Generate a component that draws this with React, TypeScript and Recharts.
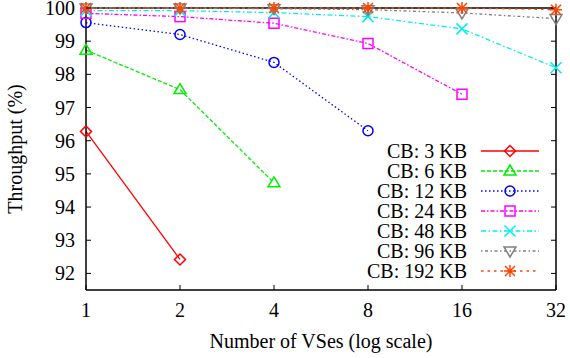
import { LineChart, Line, XAxis, YAxis, ReferenceLine } from "recharts";

const vses = [1, 2, 4, 8, 16, 32];
const yTicks = [92, 93, 94, 95, 96, 97, 98, 99, 100];

const cb3 = [96.28, 92.42];
const cb6 = [98.73, 97.54, 94.73];
const cb12 = [99.56, 99.2, 98.36, 96.3];
const cb24 = [99.84, 99.74, 99.54, 98.93, 97.4];
const cb48 = [99.92, 99.92, 99.86, 99.74, 99.37, 98.2];
const cb96 = [100, 100, 99.98, 99.95, 99.85, 99.68];
const cb192 = [100, 100, 100, 100, 100, 99.95];

const labels = ["CB: 3 KB", "CB: 6 KB", "CB: 12 KB", "CB: 24 KB", "CB: 48 KB", "CB: 96 KB", "CB: 192 KB"];

const FONT = "'Liberation Serif', 'Times New Roman', serif";

type Shape = "diamond" | "triUp" | "circle" | "square" | "cross" | "triDown" | "star";

const series: { vals: number[]; color: string; dash?: string; shape: Shape }[] = [
  { vals: cb3, color: "#ff0000", shape: "diamond" },
  { vals: cb6, color: "#00ee00", dash: "4 2", shape: "triUp" },
  { vals: cb12, color: "#0000ff", dash: "1.5 2.5", shape: "circle" },
  { vals: cb24, color: "#ff00ff", dash: "4 2 1.5 2", shape: "square" },
  { vals: cb48, color: "#00eeee", dash: "5 2.5 1.5 2.5", shape: "cross" },
  { vals: cb96, color: "#808080", dash: "1.5 2.5 3 2.5", shape: "triDown" },
  { vals: cb192, color: "#ff4500", dash: "2.5 4", shape: "star" },
];

const toData = (vals: number[]) => vals.map((v, i) => ({ x: vses[i], y: v }));

function Marker({ cx, cy, shape, color }: { cx: number; cy: number; shape: Shape; color: string }) {
  const p = { fill: "none", stroke: color, strokeWidth: 1.5 };
  switch (shape) {
    case "diamond":
      return <path d={`M${cx},${cy - 5.5}L${cx + 5.5},${cy}L${cx},${cy + 5.5}L${cx - 5.5},${cy}Z`} {...p} />;
    case "triUp":
      return <path d={`M${cx},${cy - 6}L${cx + 6},${cy + 4}L${cx - 6},${cy + 4}Z`} {...p} />;
    case "triDown":
      return <path d={`M${cx},${cy + 6}L${cx + 6},${cy - 4}L${cx - 6},${cy - 4}Z`} {...p} />;
    case "circle":
      return <circle cx={cx} cy={cy} r={5} {...p} />;
    case "square":
      return <rect x={cx - 5} y={cy - 5} width={10} height={10} {...p} />;
    case "cross":
      return <path d={`M${cx - 5.5},${cy - 5.5}L${cx + 5.5},${cy + 5.5}M${cx - 5.5},${cy + 5.5}L${cx + 5.5},${cy - 5.5}`} {...p} />;
    case "star":
      return (
        <path
          d={`M${cx},${cy - 6}L${cx},${cy + 6}M${cx - 6},${cy}L${cx + 6},${cy}M${cx - 5},${cy - 5}L${cx + 5},${cy + 5}M${cx - 5},${cy + 5}L${cx + 5},${cy - 5}`}
          {...p}
        />
      );
  }
  return null;
}

const LeftTick = (props: any) => {
  const { x, y, payload } = props;
  return (
    <g>
      <line x1={x} y1={y} x2={x + 5} y2={y} stroke="#000" strokeWidth={1} />
      <text x={x - 11} y={y + 7} textAnchor="end" fontFamily={FONT} fontSize={20} fill="#000">
        {payload.value}
      </text>
    </g>
  );
};

const BottomTick = (props: any) => {
  const { x, y, payload } = props;
  return (
    <g>
      <line x1={x} y1={y} x2={x} y2={y - 5} stroke="#000" strokeWidth={1} />
      <text x={x} y={y + 27} textAnchor="middle" fontFamily={FONT} fontSize={20} fill="#000">
        {payload.value}
      </text>
    </g>
  );
};

// mirror ticks on the right and top borders
const RightTickShape = (p: any) => (
  <line x1={p.x2 - 5} y1={p.y2} x2={p.x2} y2={p.y2} stroke="#000" strokeWidth={1} />
);
const TopTickShape = (p: any) => {
  const top = Math.min(p.y1, p.y2);
  return <line x1={p.x1} y1={top} x2={p.x1} y2={top + 5} stroke="#000" strokeWidth={1} />;
};

export default function App() {
  return (
    <div style={{ position: "relative", width: 570, height: 358, background: "#fff" }}>
      <style>{"body{margin:0}"}</style>
      <LineChart width={570} height={358} margin={{ top: 8, right: 14, bottom: 0, left: 0 }}>
        <XAxis
          dataKey="x"
          type="number"
          scale="log"
          domain={[1, 32]}
          ticks={vses}
          allowDuplicatedCategory={false}
          height={68}
          tickSize={0}
          tickMargin={0}
          tickLine={false}
          axisLine={{ stroke: "#000", strokeWidth: 1.5 }}
          tick={<BottomTick />}
          interval={0}
        />
        <YAxis
          type="number"
          domain={[91.5, 100]}
          ticks={yTicks}
          width={86}
          tickSize={0}
          tickMargin={0}
          tickLine={false}
          axisLine={{ stroke: "#000", strokeWidth: 1.5 }}
          tick={<LeftTick />}
          interval={0}
        />
        {yTicks.map((t) => (
          <ReferenceLine key={`r${t}`} y={t} stroke="#000" shape={RightTickShape} />
        ))}
        {vses.slice(1, -1).map((t) => (
          <ReferenceLine key={`t${t}`} x={t} stroke="#000" shape={TopTickShape} />
        ))}
        <ReferenceLine y={100} stroke="#000" strokeWidth={1.5} />
        <ReferenceLine x={32} stroke="#000" strokeWidth={1.5} />
        {series.map((s, i) => (
          <Line
            key={labels[i]}
            data={toData(s.vals)}
            dataKey="y"
            name={labels[i]}
            stroke={s.color}
            strokeWidth={1.3}
            strokeDasharray={s.dash}
            isAnimationActive={false}
            dot={(d: any) => <Marker key={`${i}-${d.index}`} cx={d.cx} cy={d.cy} shape={s.shape} color={s.color} />}
            activeDot={false}
          />
        ))}
      </LineChart>
      <svg width={570} height={358} style={{ position: "absolute", left: 0, top: 0, pointerEvents: "none" }}>
        <text
          transform="translate(22,149) rotate(-90)"
          textAnchor="middle"
          fontFamily={FONT}
          fontSize={20}
          fill="#000"
        >
          Throughput (%)
        </text>
        <text x={321} y={348} textAnchor="middle" fontFamily={FONT} fontSize={20} fill="#000">
          Number of VSes (log scale)
        </text>
        {series.map((s, i) => {
          const cy = 151 + i * 20;
          return (
            <g key={labels[i]}>
              <text x={467} y={cy + 7} textAnchor="end" fontFamily={FONT} fontSize={20} fill="#000">
                {labels[i]}
              </text>
              <line x1={481} y1={cy} x2={539} y2={cy} stroke={s.color} strokeWidth={1.3} strokeDasharray={s.dash} />
              <Marker cx={510} cy={cy} shape={s.shape} color={s.color} />
            </g>
          );
        })}
      </svg>
    </div>
  );
}
